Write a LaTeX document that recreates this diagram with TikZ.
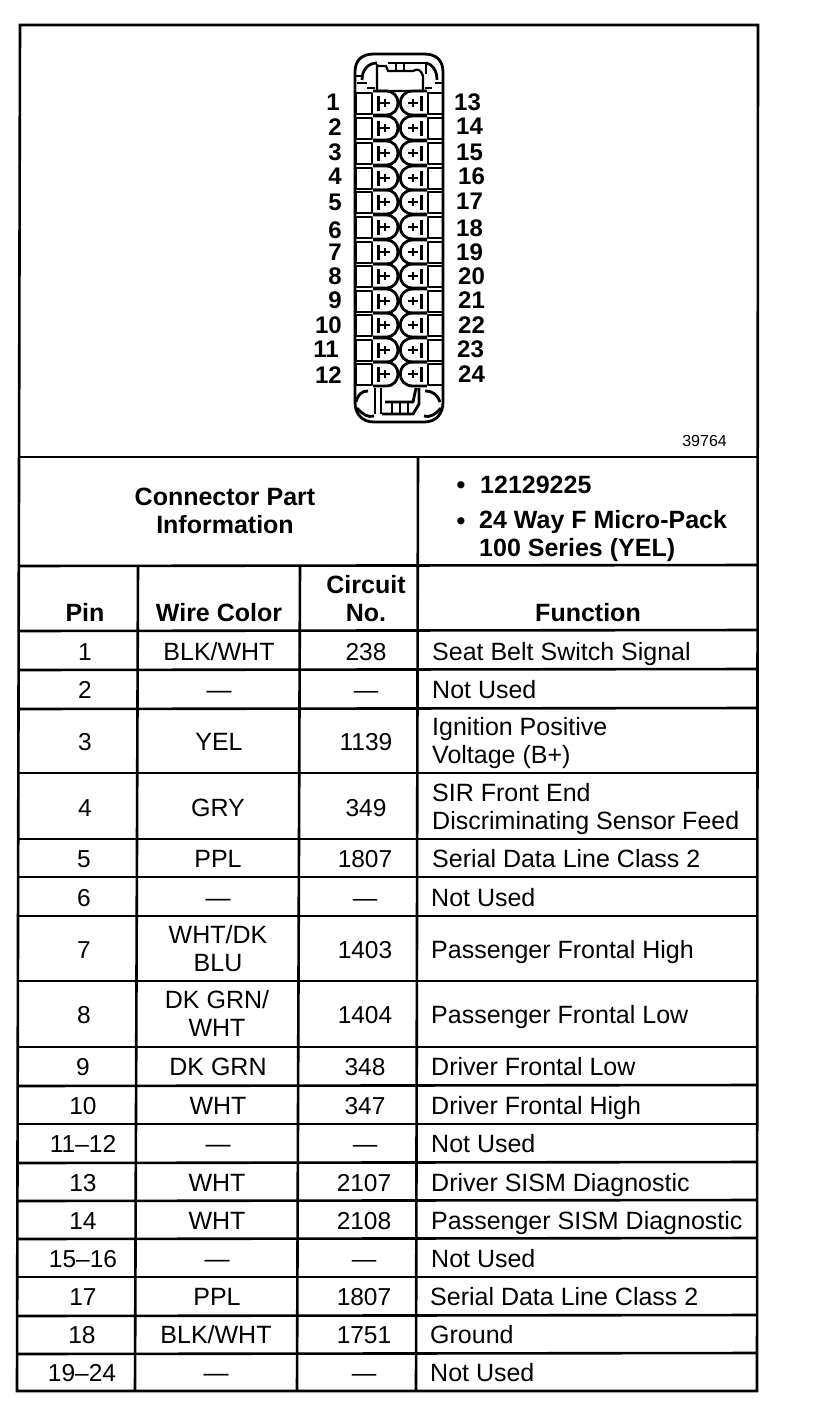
\documentclass[tikz,border=0pt]{standalone}
\usepackage{fontspec}
\setmainfont{Liberation Sans}
\newcommand{\rsz}{\fontsize{25}{28}\selectfont}
\newcommand{\rnum}{\fontsize{24.5}{28}\selectfont}
\tikzset{
  x=1pt,y=-1pt,
  rule/.style={line width=2.6pt,black},
  cell/.style={inner sep=0pt,font=\rsz,align=center,text=black,anchor=center,yshift=-3.4pt,
    execute at begin node=\strut,execute at end node=\strut},
  cellnum/.style={cell,font=\rnum},
  celll/.style={cell,anchor=west,align=left},
  head/.style={cell,font=\rsz\bfseries},
  headl/.style={celll,font=\rsz\bfseries},
  pinnum/.style={inner sep=0pt,font=\fontsize{24}{28}\selectfont\bfseries},
  part/.style={line width=2.8pt,black,line join=round},
  partthin/.style={line width=2.2pt,black,line join=round}
}
\begin{document}
\begin{tikzpicture}
\useasboundingbox[fill=white] (0,0) rectangle (832,1408);
% frame and table rules
\draw[rule] (20,25) -- (758,25) -- (757,1391) -- (17,1391) -- cycle;
\foreach \ya/\yb in {457/457,566/565,631/630,670/669,709/708,773/773,839/839,877/877,916/916,981/981,1047/1047,1086/1085,1124/1124,1163/1162,1201/1200,1239/1238,1277/1277,1316/1315,1354/1353}
  \draw[rule] (18,\ya) -- (757,\yb);
\draw[rule] (418,457) -- (416,1391);
\draw[rule] (138,566) -- (135,1391);
\draw[rule] (300,566) -- (297,1391);
% connector body
\draw[part] (355,90) -- (355,72) .. controls (355,60) and (362,54) .. (374,54) -- (424,54) .. controls (436,54) and (443,60) .. (443,72) -- (443,402) .. controls (443,414) and (436,422) .. (424,422) -- (374,422) .. controls (362,422) and (355,414) .. (355,402) -- cycle;
% top latch
\draw[part] (362,80) .. controls (362,70) and (368,63) .. (377,63);
\draw[part] (426,63) .. controls (432,64) and (437,70) .. (437,80);
\draw[partthin] (377,64) -- (377,91) -- (423,91) -- (423,76) .. controls (421,70) and (418,68) .. (413,71) -- (388,71) -- (386,66) -- (377,66);
\draw[part] (388,63) -- (426,63) (426,63) -- (426,74);
\draw[partthin] (396,63) -- (396,71) (404,63) -- (404,71);
\draw[part] (356,76) -- (362,76) (357,83) -- (367,83) (367,88) -- (375,88) (425,88) -- (432,88) (435,83) -- (443,83);
% pin cavities
\foreach \y in {103,128,153,178,202,227,252,276,301,325,350,374}{
  \draw[partthin] (356,\y-10) rectangle (372,\y+11);
  \draw[partthin] (428,\y-10) rectangle (443,\y+11);
  \draw[part] (373,\y-12) -- (386,\y-12) .. controls (402,\y-12) and (402,\y+12) .. (386,\y+12) -- (373,\y+12);
  \draw[part] (427,\y-12) -- (413,\y-12) .. controls (396,\y-12) and (396,\y+12) .. (413,\y+12) -- (427,\y+12);
  \draw[line width=3pt] (378,\y-7) -- (378,\y+8);
  \draw[line width=3pt] (421,\y-7) -- (421,\y+8);
  \draw[line width=2pt] (380,\y) -- (390,\y) (385,\y-4) -- (385,\y+4);
  \draw[line width=2pt] (408,\y) -- (418,\y) (413,\y-4) -- (413,\y+4);
}
% bottom latch
\draw[part] (356,402) .. controls (358,394) and (362,391) .. (368,391);
\draw[part] (425,391) .. controls (434,391) and (438,396) .. (440,402);
\draw[part] (357,408) .. controls (362,414) and (368,418) .. (374,416);
\draw[part] (441,408) .. controls (436,414) and (430,418) .. (424,416);
\draw[part] (375,388) -- (375,414) (381,388) -- (381,414);
\draw[part] (416,388) -- (413,402) -- (385,402) (419,388) -- (419,404) -- (413,414) -- (382,414);
\draw[partthin] (392,402) -- (392,414) (400,402) -- (400,414) (408,402) -- (408,414);
% pin numbers
\foreach \n/\x/\y in {1/340/102,2/342/127,3/342/152,4/342/176,5/342/202,6/342/230,7/342/252,8/342/276,9/342/300,10/342/325,11/339/349,12/342/375}
  \node[pinnum,anchor=east] (pl\n) at (\x,\y) {\n};
\foreach \n/\x/\y in {13/454/102,14/456/126,15/456/152,16/458/176,17/456/201,18/456/228,19/456/252,20/458/276,21/458/300,22/458/325,23/457/349,24/458/374}
  \node[pinnum,anchor=west] (pr\n) at (\x,\y) {\n};
\node[inner sep=0pt,font=\fontsize{16}{18}\selectfont,anchor=east] (drawno) at (727,441) {39764};
% part information
\node[head] (cpi) at (225,512) {Connector Part\\Information};
\node[head] (bullet1) at (461,484) {•};
\node[headl] (pn) at (480,484) {12129225};
\node[head] (bullet2) at (461,520) {•};
\node[headl] (pd) at (479,534) {24 Way F Micro-Pack\\100 Series (YEL)};
% header row
\node[head,anchor=south] (hpin) at (85,627) {Pin};
\node[head,anchor=south] (hwire) at (219,627) {Wire Color};
\node[head,anchor=south] (hcirc) at (366,627) {Circuit\\No.};
\node[head,anchor=south] (hfunc) at (588,627) {Function};
% rows
\foreach \r/\y/\xa/\pin/\xb/\wire/\xc/\cno/\xd/\func in {
 a/651/85/1/219/BLK\slash WHT/366/238/432/Seat Belt Switch Signal,
 b/689/85/2/219/—/366/—/432/Not Used,
 c/741/85/3/219/YEL/366/1139/432/{Ignition Positive\\Voltage (B+)},
 d/807/85/4/218/GRY/366/349/432/{SIR Front End\\Discriminating Sensor Feed},
 e/858/84/5/218/PPL/365/1807/432/Serial Data Line Class 2,
 f/897/84/6/218/—/365/—/431/Not Used,
 g/949/84/7/218/{WHT/DK\\BLU}/365/1403/431/Passenger Frontal High,
 h/1014/84/8/217/{DK GRN/\\WHT}/365/1404/431/Passenger Frontal Low,
 i/1066/83/9/218/DK GRN/365/348/431/Driver Frontal Low,
 j/1105/83/10/218/WHT/365/347/431/Driver Frontal High,
 k/1143/83/11–12/218/—/365/—/431/Not Used,
 l/1182/83/13/217/WHT/364/2107/431/Driver SISM Diagnostic,
 m/1220/83/14/217/WHT/364/2108/431/Passenger SISM Diagnostic,
 n/1258/83/15–16/217/—/364/—/431/Not Used,
 o/1296/83/17/217/PPL/364/1807/430/Serial Data Line Class 2,
 p/1334/82/18/216/BLK\slash WHT/364/1751/430/Ground,
 q/1372/82/19–24/216/—/364/—/430/Not Used}{
  \node[cellnum] (pin\r) at (\xa,\y) {\pin};
  \node[cell] (wire\r) at (\xb,\y) {\wire};
  \node[cellnum] (circ\r) at (\xc,\y) {\cno};
  \node[celll] (func\r) at (\xd,\y) {\func};
}
\end{tikzpicture}
\end{document}
